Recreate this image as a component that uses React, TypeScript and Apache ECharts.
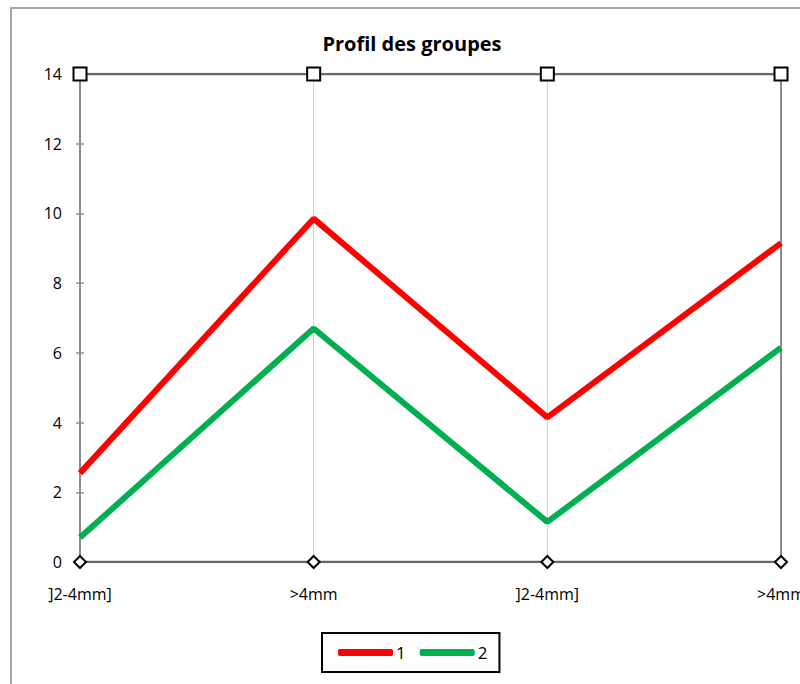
import React, { useEffect, useRef } from "react";
import * as echarts from "echarts";

const categories = ["]2-4mm]", ">4mm", "]2-4mm]", ">4mm"];
const series1 = [2.55, 9.85, 4.15, 9.15];
const series2 = [0.7, 6.7, 1.15, 6.15];
const topRef = [14, 14, 14, 14];
const bottomRef = [0, 0, 0, 0];
const seriesNames = ["1", "2"];

export default function App() {
  const ref = useRef<HTMLDivElement>(null);
  useEffect(() => {
    const chart = echarts.init(ref.current!, null, { renderer: "svg" });
    const font = "'Open Sans', 'Noto Sans', sans-serif";
    chart.setOption({
      animation: false,
      backgroundColor: "#ffffff",
      textStyle: { fontFamily: font },
      title: {
        text: "Profil des groupes",
        left: 407,
        textAlign: "center",
        top: 28,
        textStyle: { fontSize: 20, fontWeight: "bold", color: "#000", fontFamily: font },
      },
      graphic: [
        {
          type: "rect",
          shape: { x: 11, y: 8, width: 900, height: 900 },
          style: { fill: "none", stroke: "#a6a6a6", lineWidth: 2 },
          silent: true,
        },
      ],
      legend: {
        data: seriesNames,
        left: 322,
        top: 633,
        padding: [11, 12, 11, 16],
        borderColor: "#000",
        borderWidth: 2,
        itemWidth: 55,
        itemHeight: 7,
        itemGap: 14,
        icon: "roundRect",
        textStyle: { fontSize: 17, color: "#000", fontFamily: font, padding: [0, 0, 0, -2] },
      },
      grid: { left: 80, right: 19, top: 74, bottom: 122, outerBoundsMode: "none" },
      xAxis: {
        type: "category",
        data: categories,
        boundaryGap: false,
        axisLine: { show: false },
        axisTick: { show: false },
        axisLabel: { color: "#000", fontSize: 16, fontFamily: font, margin: 24 },
        splitLine: { show: true, lineStyle: { color: "#d0d0d0", width: 1 } },
      },
      yAxis: [
        {
          type: "value",
          min: 0,
          max: 14,
          interval: 2,
          axisLine: { show: true, lineStyle: { color: "#8c8c8c", width: 2 } },
          axisTick: { show: true, length: 4, lineStyle: { color: "#8c8c8c", width: 1.5 } },
          axisLabel: { color: "#000", fontSize: 16, fontFamily: font, margin: 18 },
          splitLine: { show: false },
        },
        {
          type: "value",
          min: 0,
          max: 14,
          interval: 2,
          position: "left",
          axisLine: { show: false },
          axisTick: { show: true, inside: true, length: 4, lineStyle: { color: "#8c8c8c", width: 1.5 } },
          axisLabel: { show: false },
          splitLine: { show: false },
        },
        {
          type: "value",
          min: 0,
          max: 14,
          interval: 2,
          position: "right",
          axisLine: { show: true, lineStyle: { color: "#8c8c8c", width: 2 } },
          axisTick: { show: false },
          axisLabel: { show: false },
          splitLine: { show: false },
        },
      ],
      series: [
        {
          name: "top",
          type: "line",
          data: topRef,
          symbol: "rect",
          symbolSize: 13,
          itemStyle: { color: "#fff", borderColor: "#000", borderWidth: 2 },
          lineStyle: { color: "#6a6a6a", width: 2.5 },
          z: 3,
        },
        {
          name: "bottom",
          type: "line",
          data: bottomRef,
          symbol: "diamond",
          symbolSize: 12,
          itemStyle: { color: "#fff", borderColor: "#000", borderWidth: 2 },
          lineStyle: { color: "#6a6a6a", width: 2.5 },
          z: 3,
        },
        {
          name: seriesNames[0],
          type: "line",
          data: series1,
          symbol: "none",
          color: "#ff0000",
          lineStyle: { color: "#ff0000", width: 6 },
          itemStyle: { color: "#ff0000" },
          z: 2,
        },
        {
          name: seriesNames[1],
          type: "line",
          data: series2,
          symbol: "none",
          color: "#00b050",
          lineStyle: { color: "#00b050", width: 6 },
          itemStyle: { color: "#00b050" },
          z: 2,
        },
      ],
    });
    return () => chart.dispose();
  }, []);
  return (
    <div
      ref={ref}
      style={{ position: "fixed", left: 0, top: 0, width: 800, height: 684 }}
    />
  );
}
